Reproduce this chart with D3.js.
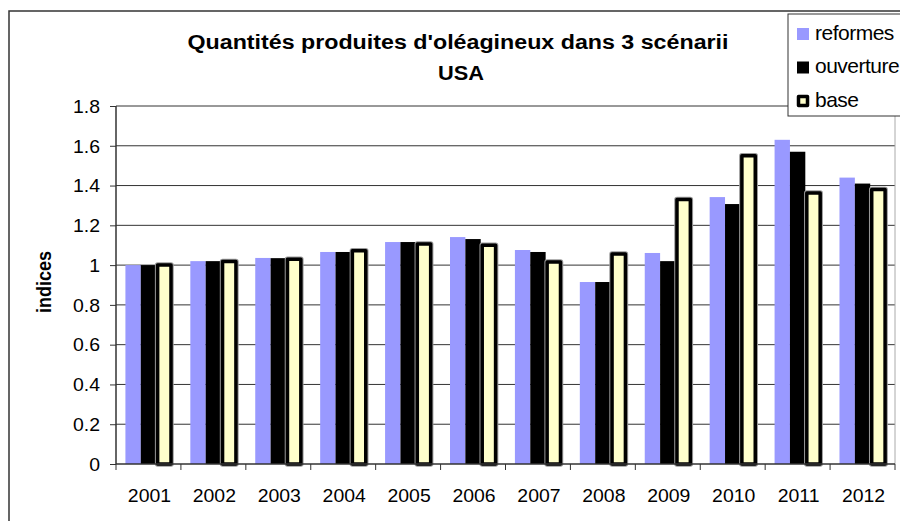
<!DOCTYPE html>
<html>
<head>
<meta charset="utf-8">
<script src="https://cdn.jsdelivr.net/npm/d3@7"></script>
<style>
  body { margin: 0; background: #fff; }
  svg { display: block; font-family: Arial, "Liberation Sans", sans-serif; }
</style>
</head>
<body>
<svg id="chart" width="900" height="521"></svg>
<script>
// data
const years = ["2001", "2002", "2003", "2004", "2005", "2006", "2007", "2008", "2009", "2010", "2011", "2012"];
const seriesNames = ["reformes", "ouverture", "base"];
const reformes = [1.0, 1.02, 1.036, 1.066, 1.116, 1.141, 1.076, 0.915, 1.061, 1.342, 1.63, 1.44];
const ouverture = [1.0, 1.02, 1.035, 1.066, 1.116, 1.131, 1.066, 0.915, 1.02, 1.307, 1.57, 1.41];
const base = [1.0, 1.018, 1.03, 1.072, 1.106, 1.1, 1.016, 1.056, 1.33, 1.55, 1.363, 1.38];
const yTicks = [0, 0.2, 0.4, 0.6, 0.8, 1, 1.2, 1.4, 1.6, 1.8];

const colors = { reformes: "#9999ff", ouverture: "#000000", base: "#ffffcc" };
const stretch = 1.11; // the original is a little wider than tall

const svg = d3.select("#chart");

// outer chart frame
svg.append("rect")
  .attr("x", 9).attr("y", 11)
  .attr("width", 900).attr("height", 530)
  .attr("fill", "none").attr("stroke", "#333").attr("stroke-width", 1.5);

const plotLeft = 116, plotRight = 895, plotTop = 106, plotBottom = 464;

const x0 = d3.scaleBand().domain(years).range([plotLeft, plotRight])
  .paddingInner(0.29).paddingOuter(0.145);
const x1 = d3.scaleBand().domain(seriesNames).range([0, x0.bandwidth()]);
const y = d3.scaleLinear().domain([0, 1.8]).range([plotBottom, plotTop]);

// gridlines
svg.append("g")
  .selectAll("line")
  .data(yTicks.filter(d => d > 0))
  .join("line")
  .attr("x1", plotLeft).attr("x2", plotRight)
  .attr("y1", d => y(d)).attr("y2", d => y(d))
  .attr("stroke", "#333").attr("stroke-width", 1);

// plot right border
svg.append("line")
  .attr("x1", plotRight).attr("x2", plotRight).attr("y1", plotTop).attr("y2", plotBottom)
  .attr("stroke", "#aaa");

const rows = years.map((yr, i) => ({ year: yr, reformes: reformes[i], ouverture: ouverture[i], base: base[i] }));

const groups = svg.append("g")
  .selectAll("g")
  .data(rows)
  .join("g")
  .attr("transform", d => `translate(${x0(d.year)},0)`);

groups.append("rect")
  .attr("x", x1("reformes")).attr("width", x1.bandwidth())
  .attr("y", d => y(d.reformes)).attr("height", d => plotBottom - y(d.reformes))
  .attr("fill", colors.reformes);

groups.append("rect")
  .attr("x", x1("ouverture")).attr("width", x1.bandwidth())
  .attr("y", d => y(d.ouverture)).attr("height", d => plotBottom - y(d.ouverture))
  .attr("fill", colors.ouverture);

// base bars: thick black outline with a soft grey fringe
groups.append("rect")
  .attr("x", x1("base") + 1.5).attr("width", x1.bandwidth() - 2)
  .attr("y", d => y(d.base)).attr("height", d => plotBottom - y(d.base))
  .attr("fill", "none").attr("stroke", "#999").attr("stroke-width", 5.5)
  .attr("stroke-linejoin", "round");
groups.append("rect")
  .attr("x", x1("base") + 1.5).attr("width", x1.bandwidth() - 2)
  .attr("y", d => y(d.base)).attr("height", d => plotBottom - y(d.base))
  .attr("fill", colors.base).attr("stroke", "#000").attr("stroke-width", 3.5)
  .attr("stroke-linejoin", "round");

// y axis
const yAxis = svg.append("g")
  .attr("transform", `translate(${plotLeft},0)`)
  .call(d3.axisLeft(y).tickValues(yTicks).tickSize(6)
    .tickFormat(d => d3.format("")(+d.toFixed(1))));
yAxis.select(".domain").attr("stroke", "#333").attr("stroke-width", 1.5)
  .attr("d", `M0,${plotTop}V${plotBottom}`);
yAxis.selectAll(".tick line").attr("stroke", "#333");
yAxis.selectAll(".tick text")
  .attr("font-size", 17.5).attr("fill", "#000")
  .attr("x", -16 / stretch).attr("dy", "0.36em")
  .attr("transform", `scale(${stretch},1)`)
  .attr("font-family", "Arial, 'Liberation Sans', sans-serif");

// x axis: ticks between categories
const xAxis = svg.append("g").attr("transform", `translate(0,${plotBottom})`);
xAxis.append("line")
  .attr("x1", plotLeft).attr("x2", plotRight).attr("y1", 0).attr("y2", 0)
  .attr("stroke", "#333").attr("stroke-width", 1.5);
const step = x0.step();
const boundaries = d3.range(years.length + 1).map(i => plotLeft + i * step);
xAxis.selectAll(".xt")
  .data(boundaries)
  .join("line")
  .attr("x1", d => d).attr("x2", d => d).attr("y1", 0).attr("y2", 6)
  .attr("stroke", "#333");
xAxis.selectAll(".xl")
  .data(years)
  .join("text")
  .attr("transform", d => `translate(${x0(d) + x0.bandwidth() / 2 + 1},38) scale(${stretch},1)`)
  .attr("text-anchor", "middle")
  .attr("font-size", 17.5)
  .text(d => d);

// y label
svg.append("text")
  .attr("transform", "translate(51,282) scale(1.15,1) rotate(-90)")
  .attr("text-anchor", "middle")
  .attr("font-size", 18).attr("font-weight", "bold")
  .text("indices");

// title
svg.append("text")
  .attr("x", 458).attr("y", 49)
  .attr("text-anchor", "middle")
  .attr("font-size", 20).attr("font-weight", "bold")
  .attr("textLength", 541).attr("lengthAdjust", "spacingAndGlyphs")
  .text("Quantités produites d'oléagineux dans 3 scénarii");
svg.append("text")
  .attr("x", 461).attr("y", 80)
  .attr("text-anchor", "middle")
  .attr("font-size", 21).attr("font-weight", "bold")
  .attr("textLength", 46).attr("lengthAdjust", "spacingAndGlyphs")
  .text("USA");

// legend
const legend = svg.append("g");
legend.append("rect")
  .attr("x", 788).attr("y", 14).attr("width", 130).attr("height", 102)
  .attr("fill", "#fff").attr("stroke", "#333").attr("stroke-width", 1);
const items = legend.selectAll("g")
  .data(seriesNames)
  .join("g")
  .attr("transform", (d, i) => `translate(797,${28 + i * 33.5})`);
items.append("rect")
  .attr("x", d => d === "base" ? 1.5 : 0)
  .attr("y", d => d === "base" ? 1.5 : 0)
  .attr("width", d => d === "base" ? 9 : 12)
  .attr("height", d => d === "base" ? 9 : 12)
  .attr("fill", d => colors[d])
  .attr("stroke", d => d === "base" ? "#000" : "none")
  .attr("stroke-width", 3.5).attr("stroke-linejoin", "round");
items.append("text")
  .attr("x", 18).attr("y", 11.5)
  .attr("font-size", 21).attr("letter-spacing", -0.5)
  .text(d => d);
</script>
</body>
</html>
